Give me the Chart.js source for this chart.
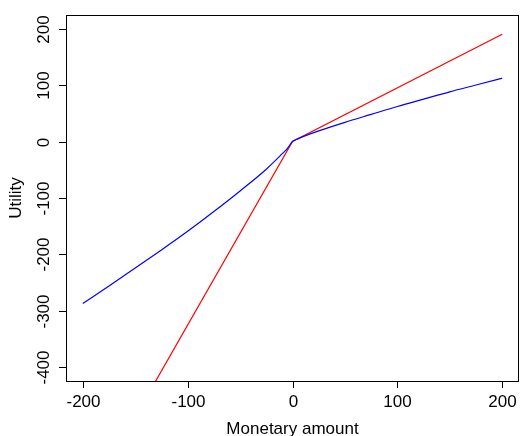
<!DOCTYPE html>
<html>
<head>
<meta charset="utf-8">
<script src="https://cdn.jsdelivr.net/npm/chart.js@4/dist/chart.umd.min.js"></script>
<style>
  html, body { margin: 0; padding: 0; background: #fff; }
  #wrap { width: 520px; height: 436px; position: relative; }
</style>
</head>
<body>
<div id="wrap"><canvas id="chart" width="520" height="436"></canvas></div>
<script>
// values
const amounts = [-200, -175, -150, -125, -100, -75, -50, -25, -10, -5, 0, 5, 10, 25, 50, 75, 100, 125, 150, 175, 200];
const valueCurve = [-287, -256, -224, -192, -159, -124, -87.5, -49, -22, -12.5, 0, 4.7, 8.6, 18.8, 34, 48, 62, 75, 88, 100, 112];
const lineAmounts = [-200, 0, 200];
const lineUtility = [-650, 0, 190];

const xTicks = [-200, -100, 0, 100, 200];
const yTicks = [-400, -300, -200, -100, 0, 100, 200];
const xTitle = 'Monetary amount';
const yTitle = 'Utility';

const FONT = '17px "Liberation Sans", Arial, sans-serif';

function toPoints(xs, ys) {
  return xs.map((x, i) => ({ x: x, y: ys[i] }));
}

// R-style axes: box, outward ticks, rotated y labels
const rAxes = {
  id: 'rAxes',
  afterDraw(chart) {
    const ctx = chart.ctx;
    const area = chart.chartArea;
    const xs = chart.scales.x;
    const ys = chart.scales.y;
    const tick = 7;

    ctx.save();
    ctx.strokeStyle = '#000';
    ctx.lineWidth = 1;
    ctx.strokeRect(area.left + 0.5, area.top + 0.5, area.right - area.left - 1, area.bottom - area.top);

    ctx.fillStyle = '#000';
    ctx.font = FONT;

    // x axis
    ctx.textAlign = 'center';
    ctx.textBaseline = 'middle';
    xTicks.forEach(v => {
      const px = Math.round(xs.getPixelForValue(v)) + 0.5;
      ctx.beginPath();
      ctx.moveTo(px, area.bottom);
      ctx.lineTo(px, area.bottom + tick);
      ctx.stroke();
      ctx.fillText(String(v), px, area.bottom + 21);
    });
    ctx.fillText(xTitle, (area.left + area.right) / 2, area.bottom + 48);

    // y axis
    yTicks.forEach(v => {
      const py = Math.round(ys.getPixelForValue(v)) + 0.5;
      ctx.beginPath();
      ctx.moveTo(area.left - tick, py);
      ctx.lineTo(area.left, py);
      ctx.stroke();
      ctx.save();
      ctx.translate(area.left - 22, py);
      ctx.rotate(-Math.PI / 2);
      ctx.fillText(String(v), 0, 0);
      ctx.restore();
    });
    ctx.save();
    ctx.translate(16, (area.top + area.bottom) / 2);
    ctx.rotate(-Math.PI / 2);
    ctx.fillText(yTitle, 0, 0);
    ctx.restore();

    ctx.restore();
  }
};

new Chart(document.getElementById('chart').getContext('2d'), {
  type: 'scatter',
  data: {
    datasets: [
      {
        label: 'Value function',
        data: toPoints(amounts, valueCurve),
        showLine: true,
        borderColor: '#0000ff',
        borderWidth: 1.2,
        pointRadius: 0,
        cubicInterpolationMode: 'monotone',
        fill: false
      },
      {
        label: 'Linear utility',
        data: toPoints(lineAmounts, lineUtility),
        showLine: true,
        borderColor: '#ff0000',
        borderWidth: 1.2,
        pointRadius: 0,
        fill: false
      }
    ]
  },
  options: {
    responsive: false,
    animation: false,
    events: [],
    layout: { padding: { left: 66, right: 1, top: 15, bottom: 55 } },
    plugins: {
      legend: { display: false },
      tooltip: { enabled: false }
    },
    scales: {
      x: { type: 'linear', min: -216, max: 216, display: false },
      y: { type: 'linear', min: -424, max: 224, display: false }
    }
  },
  plugins: [rAxes]
});
</script>
</body>
</html>
